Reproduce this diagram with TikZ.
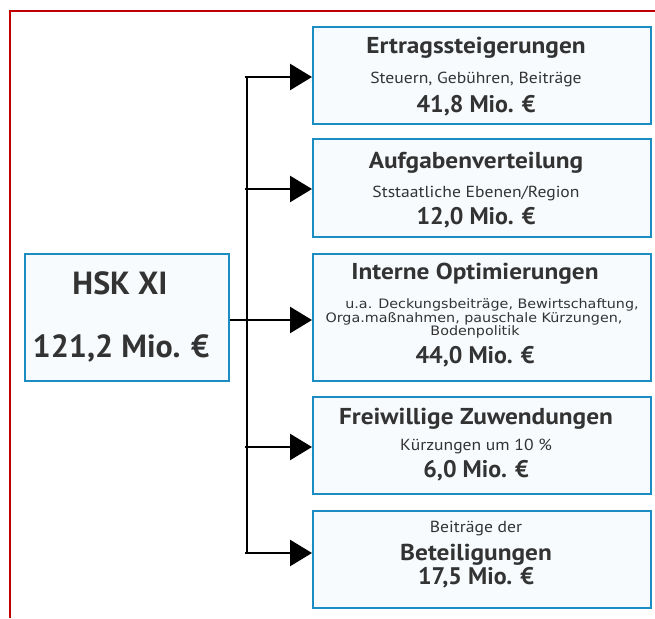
\documentclass[tikz,border=0pt]{standalone}
\usepackage{fontspec}
\setmainfont{PT Sans}
\newfontfamily\breitfont[FakeStretch=1.1]{PT Sans}
\newfontfamily\detailfont[FakeStretch=1.1]{DejaVu Sans}
\usetikzlibrary{arrows.meta}
\definecolor{rahmenrot}{HTML}{C00000}
\definecolor{kastenblau}{HTML}{1B8DC2}
\definecolor{kastenfill}{HTML}{F7FBFD}
\definecolor{schrift}{HTML}{333333}

\begin{document}
\begin{tikzpicture}[x=1pt,y=-1pt
	,>={Triangle[length=22pt,width=26pt]}
	,line width=2.6pt]
  \tikzstyle{kasten}
  =[draw=kastenblau,fill=kastenfill,line width=2pt,inner sep=0pt,minimum width=338pt]
  \tikzstyle{zeile}=[anchor=base,inner sep=0pt,text=schrift]
  \tikzstyle{titel}=[zeile,font=\breitfont\bfseries\fontsize{23}{25}\selectfont]
  \tikzstyle{unter}=[zeile,font=\breitfont\fontsize{16}{18}\selectfont]
  \tikzstyle{detail}=[zeile,font=\detailfont\fontsize{13}{14}\selectfont]
  \tikzstyle{betrag}=[zeile,font=\bfseries\fontsize{24}{26}\selectfont]
  \tikzstyle{gross}=[zeile,font=\bfseries\fontsize{32}{34}\selectfont]

  \useasboundingbox (0,0) rectangle (655,618);
  % frame
  \draw[rahmenrot,line width=1.6pt] (655,11) -- (10,11) -- (10,618);

  % left box
  \node[kasten,minimum width=204pt,minimum height=127pt] (hsk) at (127,317.5) {};
  \node[gross] (hsktitel) at (120,294) {HSK XI};
  \node[gross] (hskbetrag) at (121,357) {121,2 Mio. €};

  % 5 boxes
  \node[kasten,minimum height=97pt]  (ertrag)  at (482,75.5)  {};
  \node[kasten,minimum height=98pt]  (aufgabe) at (482,188)   {};
  \node[kasten,minimum height=127pt] (intern)  at (482,317.5) {};
  \node[kasten,minimum height=97pt]  (frei)    at (482,445.5) {};
  \node[kasten,minimum height=97pt]  (beteil)  at (482,559.5) {};

  % texts
  \node[titel]  (ertragtitel)  at (476,53)  {Ertragssteigerungen};
  \node[unter]  (ertragunter)  at (476,83)  {Steuern, Gebühren, Beiträge};
  \node[betrag] (ertragbetrag) at (476,112) {41,8 Mio. €};

  \node[titel]  (aufgabetitel)  at (476,168) {Aufgabenverteilung};
  \node[unter]  (aufgabeunter)  at (476,197) {Ststaatliche Ebenen/Region};
  \node[betrag] (aufgabebetrag) at (476,224) {12,0 Mio. €};

  \node[titel]  (interntitel)  at (475,279) {Interne Optimierungen};
  \node[detail] (internzeile1) at (492,308) {u.a. Deckungsbeiträge, Bewirtschaftung,};
  \node[detail] (internzeile2) at (474,322) {Orga.maßnahmen, pauschale Kürzungen,};
  \node[detail] (internzeile3) at (475,335) {Bodenpolitik};
  \node[betrag] (internbetrag) at (475,363) {44,0 Mio. €};

  \node[titel]  (freititel)  at (476,424) {Freiwillige Zuwendungen};
  \node[unter]  (freiunter)  at (476,450) {Kürzungen um 10 \%};
  \node[betrag] (freibetrag) at (476,477) {6,0 Mio. €};

  \node[unter]  (beteilunter)  at (476,532) {Beiträge der};
  \node[titel]  (beteiltitel)  at (476,560) {Beteiligungen};
  \node[betrag] (beteilbetrag) at (476,584) {17,5 Mio. €};

  % branch points
  \coordinate (p1) at (247,77);
  \coordinate (p2) at (247,189);
  \coordinate (p3) at (247,320);
  \coordinate (p4) at (247,447);
  \coordinate (p5) at (247,553);

  % spine and arrows
  \draw [black] (p1) -- (p5);
  \draw [->] ([xshift=-2pt]p1) -- (p1 -| ertrag.west);
  \draw [->] ([xshift=-2pt]p2) -- (p2 -| aufgabe.west);
  \draw [->] (hsk.east |- p3) -- (p3 -| intern.west);
  \draw [->] ([xshift=-2pt]p4) -- (p4 -| frei.west);
  \draw [->] ([xshift=-2pt]p5) -- (p5 -| beteil.west);

\end{tikzpicture}
\end{document}
